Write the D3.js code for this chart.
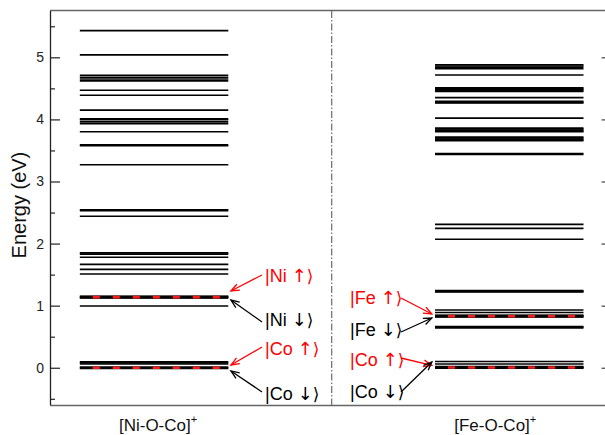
<!DOCTYPE html>
<html>
<head>
<meta charset="utf-8">
<script src="https://cdn.jsdelivr.net/npm/d3@7"></script>
<style>
  html, body { margin: 0; padding: 0; background: #fff; }
  svg { display: block; font-family: "Liberation Sans", Arial, sans-serif; }
</style>
</head>
<body>
<svg id="chart" width="605" height="435"></svg>
<script>
// ---- data ----
const categories = ["[Ni-O-Co]", "[Fe-O-Co]"];
const panelCenters = [0.75, 3.31];
const niLevels = [5.43, 5.04, 4.71, 4.68, 4.65, 4.62, 4.47, 4.39, 4.15, 4.01, 3.995, 3.96, 3.93, 3.80,
  3.59, 3.575, 3.27, 2.545, 2.53, 2.44, 1.85, 1.83, 1.78, 1.665, 1.585, 1.51, 1.145, 1.13, 0.995,
  0.097, 0.078, 0.06, 0.0];
const feLevels = [4.88, 4.86, 4.84, 4.815, 4.715, 4.51, 4.495, 4.48, 4.465, 4.45, 4.35, 4.29, 4.275, 4.265, 4.02,
  3.86, 3.845, 3.83, 3.815, 3.80, 3.715, 3.70, 3.685, 3.67, 3.655, 3.45, 3.435, 2.31, 2.245, 2.07, 1.245, 1.23, 1.222,
  0.93, 0.89, 0.84, 0.822, 0.665, 0.652, 0.64, 0.1, 0.06, 0.01, 0.0];
const niMarked = [1.137, 0.0];
const feMarked = [0.83, 0.005];
const yTicks = [0, 1, 2, 3, 4, 5];
const yMinorTicks = [-0.5, 0.5, 1.5, 2.5, 3.5, 4.5, 5.5];
const annotations = [
  {panel: 0, label: "Ni", arrow: "↑", color: "#ff0000", textE: 1.381, tailE: 1.494, tipE: 1.236},
  {panel: 0, label: "Ni", arrow: "↓", color: "#000000", textE: 0.672, tailE: 0.737, tipE: 1.091},
  {panel: 0, label: "Co", arrow: "↑", color: "#ff0000", textE: 0.205, tailE: 0.334, tipE: 0.044},
  {panel: 0, label: "Co", arrow: "↓", color: "#000000", textE: -0.519, tailE: -0.390, tipE: -0.052},
  {panel: 1, label: "Fe", arrow: "↑", color: "#ff0000", textE: 1.027, tailE: 1.123, tipE: 0.866},
  {panel: 1, label: "Fe", arrow: "↓", color: "#000000", textE: 0.512, tailE: 0.576, tipE: 0.801},
  {panel: 1, label: "Co", arrow: "↑", color: "#ff0000", textE: 0.028, tailE: 0.157, tipE: 0.040},
  {panel: 1, label: "Co", arrow: "↓", color: "#000000", textE: -0.487, tailE: -0.390, tipE: 0.093}
];
// annotation x positions (in x-data units): text start, arrow tail, arrow tip
const annX = [
  {text: 1.55, tail: 1.528, tip: 1.304},
  {text: 2.162, tail: 2.53, tip: 2.752}
];

(function () {
  // ---- layout ----
  const mL = 50, mR = 605, mT = 11, mB = 405;
  const halfW = 0.535;
  const dividerX = 2.03;

  const svg = d3.select("#chart");
  const x = d3.scaleLinear().domain([0, 4]).range([mL, mR]);
  const y = d3.scaleLinear().domain([-0.6, 5.746]).range([mB, mT]);

  // frame
  svg.append("line").attr("x1", mL).attr("x2", mR).attr("y1", mT - 0.5).attr("y2", mT - 0.5)
    .attr("stroke", "#666").attr("stroke-width", 1.3);
  svg.append("line").attr("x1", mL).attr("x2", mR).attr("y1", mB + 0.5).attr("y2", mB + 0.5)
    .attr("stroke", "#666").attr("stroke-width", 1.3);

  // left axis
  const yAxis = d3.axisLeft(y).tickValues(yTicks).tickSize(-10).tickPadding(8).tickFormat(d3.format("d"));
  const gy = svg.append("g").attr("transform", `translate(${mL},0)`).call(yAxis);
  gy.select(".domain").attr("stroke", "#222").attr("stroke-width", 1.3).attr("d", `M0.5,${mT}V${mB}`);
  gy.selectAll(".tick line").attr("stroke", "#222").attr("stroke-width", 1.2);
  gy.selectAll(".tick text").attr("font-size", 14).attr("fill", "#222")
    .attr("font-family", "'Liberation Sans', Arial, sans-serif")
    .attr("text-anchor", "end").attr("x", -6);
  const yMinor = d3.axisLeft(y).tickValues(yMinorTicks).tickSize(-5).tickFormat("");
  const gym = svg.append("g").attr("transform", `translate(${mL},0)`).call(yMinor);
  gym.select(".domain").remove();
  gym.selectAll(".tick line").attr("stroke", "#222").attr("stroke-width", 1.2);

  // right axis ticks (inward, partially cut)
  const yRight = d3.axisRight(y).tickValues(yTicks).tickSize(-4).tickFormat("");
  const gr = svg.append("g").attr("transform", `translate(${mR + 0.5},0)`).call(yRight);
  gr.select(".domain").remove();
  gr.selectAll(".tick line").attr("stroke", "#444").attr("stroke-width", 1.2);

  // divider
  svg.append("line").attr("x1", x(dividerX)).attr("x2", x(dividerX)).attr("y1", mT).attr("y2", mB)
    .attr("stroke", "#777").attr("stroke-width", 1.3).attr("stroke-dasharray", "7,2,1.5,2");

  // levels
  function drawLevels(levels, center) {
    svg.append("g").selectAll("line").data(levels).join("line")
      .attr("x1", x(center - halfW)).attr("x2", x(center + halfW))
      .attr("y1", d => y(d)).attr("y2", d => y(d))
      .attr("stroke", "#000").attr("stroke-width", 1.6);
  }
  function drawMarked(levels, center) {
    const g = svg.append("g");
    g.selectAll("line.b").data(levels).join("line").attr("class", "b")
      .attr("x1", x(center - halfW)).attr("x2", x(center + halfW))
      .attr("y1", d => y(d)).attr("y2", d => y(d))
      .attr("stroke", "#000").attr("stroke-width", 3.2);
    g.selectAll("line.r").data(levels).join("line").attr("class", "r")
      .attr("x1", x(center - halfW)).attr("x2", x(center + halfW))
      .attr("y1", d => y(d)).attr("y2", d => y(d))
      .attr("stroke", "#ff1a1a").attr("stroke-width", 2.6)
      .attr("stroke-dasharray", "7,13").attr("stroke-dashoffset", 7);
  }
  drawLevels(niLevels, panelCenters[0]);
  drawLevels(feLevels, panelCenters[1]);
  drawMarked(niMarked, panelCenters[0]);
  drawMarked(feMarked, panelCenters[1]);

  // annotations
  const ga = svg.append("g");
  annotations.forEach(a => {
    const ax = annX[a.panel];
    const x1 = x(ax.tail), y1 = y(a.tailE), x2 = x(ax.tip), y2 = y(a.tipE);
    ga.append("line").attr("x1", x1).attr("y1", y1).attr("x2", x2).attr("y2", y2)
      .attr("stroke", a.color).attr("stroke-width", 1.3);
    const ang = Math.atan2(y2 - y1, x2 - x1);
    const L = 9, spread = 0.38;
    const p1 = [x2 - L * Math.cos(ang - spread), y2 - L * Math.sin(ang - spread)];
    const p2 = [x2 - L * Math.cos(ang + spread), y2 - L * Math.sin(ang + spread)];
    ga.append("path").attr("d", `M${p1[0]},${p1[1]}L${x2},${y2}L${p2[0]},${p2[1]}`)
      .attr("fill", "none").attr("stroke", a.color).attr("stroke-width", 1.3);
    const t = ga.append("text").attr("x", x(ax.text)).attr("y", y(a.textE))
      .attr("font-size", 18).attr("fill", a.color);
    t.append("tspan").text("|" + a.label + " ");
    t.append("tspan").attr("font-family", "'DejaVu Sans'").attr("font-size", 18).text(a.arrow);
    t.append("tspan").attr("font-family", "'DejaVu Sans'").attr("font-size", 17).text("⟩");
  });

  // category labels
  categories.forEach((c, i) => {
    const t = svg.append("text").attr("x", x(panelCenters[i]) + (i === 0 ? 4 : -14)).attr("y", 431)
      .attr("text-anchor", "middle").attr("font-size", 17).attr("fill", "#111");
    t.append("tspan").text(c);
    t.append("tspan").attr("font-size", 11).attr("dy", -8).text("+");
  });

  // y label
  svg.append("text").attr("transform", `translate(26,${y(2.62)}) rotate(-90)`)
    .attr("text-anchor", "middle").attr("font-size", 20).attr("fill", "#111").text("Energy (eV)");
})();
</script>
</body>
</html>
